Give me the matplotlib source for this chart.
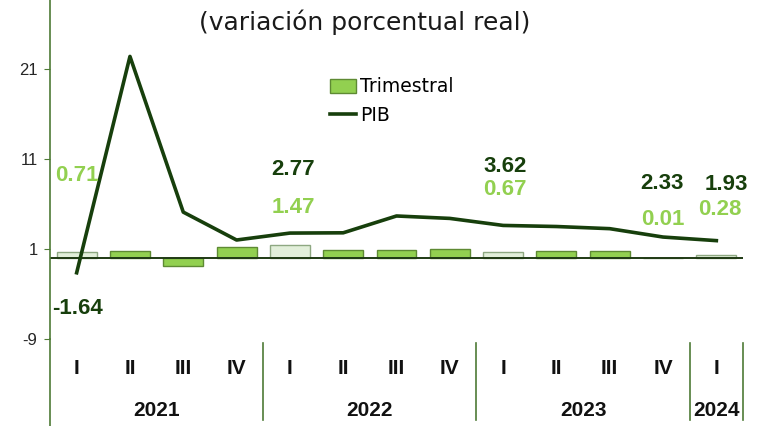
#!/usr/bin/env python3
"""PIB trimestral: variacion porcentual real (barras trimestrales + linea anual)."""
import matplotlib
matplotlib.use("Agg")
import matplotlib.pyplot as plt
from matplotlib.patches import Patch
from matplotlib.lines import Line2D

# ── data ──────────────────────────────────────────────────────────────────────
quarters = ["I", "II", "III", "IV", "I", "II", "III", "IV", "I", "II", "III", "IV", "I"]
years = ["2021", "2022", "2023", "2024"]
year_spans = [(0, 3), (4, 7), (8, 11), (12, 12)]
trimestral = [0.71, 0.80, -0.85, 1.20, 1.47, 0.90, 0.90, 1.04, 0.67, 0.78, 0.78, 0.01, 0.28]
pib = [-1.64, 22.4, 5.1, 2.0, 2.77, 2.8, 4.67, 4.4, 3.62, 3.5, 3.26, 2.33, 1.93]
highlight = [0, 4, 8, 11, 12]          # quarters with labels / light bars
yticks = [-9, 1, 11, 21]

# label placement (data coords) for the annotated quarters
pib_lbl_pos = {0: (0.02, -5.6), 4: (4.06, 9.8), 8: (8.04, 10.2), 11: (10.98, 8.3), 12: (12.18, 8.2)}
tri_lbl_pos = {0: (0.0, 9.2), 4: (4.06, 5.6), 8: (8.04, 7.6), 11: (11.0, 4.3), 12: (12.07, 5.4)}

GREEN = "#92d050"
GREEN_EDGE = "#5e8a33"
LIGHT = "#e2efda"
LIGHT_EDGE = "#8ea882"
DARK = "#173f0c"
AXIS = "#4e7a36"

plt.rcParams["font.family"] = ["Liberation Sans", "DejaVu Sans"]

fig = plt.figure(figsize=(7.65, 4.26), dpi=100)
ax = fig.add_axes([50 / 765, 1 - 339 / 426, 693 / 765, 339 / 426])

x = list(range(len(quarters)))
fills = [LIGHT if i in highlight else GREEN for i in x]
edges = [LIGHT_EDGE if i in highlight else GREEN_EDGE for i in x]
ax.bar(x, trimestral, width=0.75, color=fills, edgecolor=edges, linewidth=1.0, zorder=2)
ax.plot(x, pib, color=DARK, linewidth=2.6, zorder=3)
ax.axhline(0, color="#1f3a14", linewidth=1.4, zorder=2.5)

ax.set_xlim(-0.5, len(quarters) - 0.5)
ax.set_ylim(-9, 28.67)
ax.set_yticks(yticks)
ax.set_yticklabels([str(v) for v in yticks], fontsize=12, color="#262626")
ax.tick_params(axis="y", length=4, color=AXIS, pad=5)
ax.set_xticks([])
for s in ("top", "right", "bottom"):
    ax.spines[s].set_visible(False)
ax.spines["left"].set_color(AXIS)
ax.spines["left"].set_linewidth(1.2)

# value labels
for i, (px, py) in pib_lbl_pos.items():
    ax.text(px, py, f"{pib[i]:.2f}", ha="center", va="center", fontsize=16,
            fontweight="bold", color=DARK, zorder=4)
for i, (px, py) in tri_lbl_pos.items():
    ax.text(px, py, f"{trimestral[i]:.2f}", ha="center", va="center", fontsize=16,
            fontweight="bold", color=GREEN, zorder=4)

# two-level category axis
narrow = ["Liberation Sans Narrow", "Liberation Sans", "DejaVu Sans"]
trans = ax.get_xaxis_transform()
for i, q in enumerate(quarters):
    ax.text(i, -0.088, q, transform=trans, ha="center", va="center", fontsize=15,
            fontweight="bold", family=narrow, color="#111111")
for yr, (a, b) in zip(years, year_spans):
    ax.text((a + b) / 2, -0.21, yr, transform=trans, ha="center", va="center",
            fontsize=15, fontweight="bold", family=narrow, color="#111111")
for sep in (3.5, 7.5, 11.5, 12.5):
    ax.plot([sep, sep], [-0.012, -0.24], transform=trans, color=AXIS,
            linewidth=1.2, clip_on=False)
ax.plot([-0.5, -0.5], [0, -0.26], transform=trans, color=AXIS, linewidth=1.2,
        clip_on=False)

# title and legend
fig.text(365 / 765, 1 - 22 / 426, "(variación porcentual real)", ha="center",
         va="center", fontsize=18, family=["DejaVu Sans"], color="#1a1a1a")
handles = [Patch(facecolor=GREEN, edgecolor=GREEN_EDGE, linewidth=1.0),
           Line2D([0], [0], color=DARK, linewidth=2.6)]
fig.legend(handles, ["Trimestral", "PIB"], loc="upper left",
           bbox_to_anchor=(322 / 765, 1 - 70 / 426), frameon=False,
           prop={"family": "DejaVu Sans", "size": 13.5}, handlelength=1.4,
           handletextpad=0.25, labelspacing=0.5, borderaxespad=0)

fig.savefig("out.png", dpi=100)
